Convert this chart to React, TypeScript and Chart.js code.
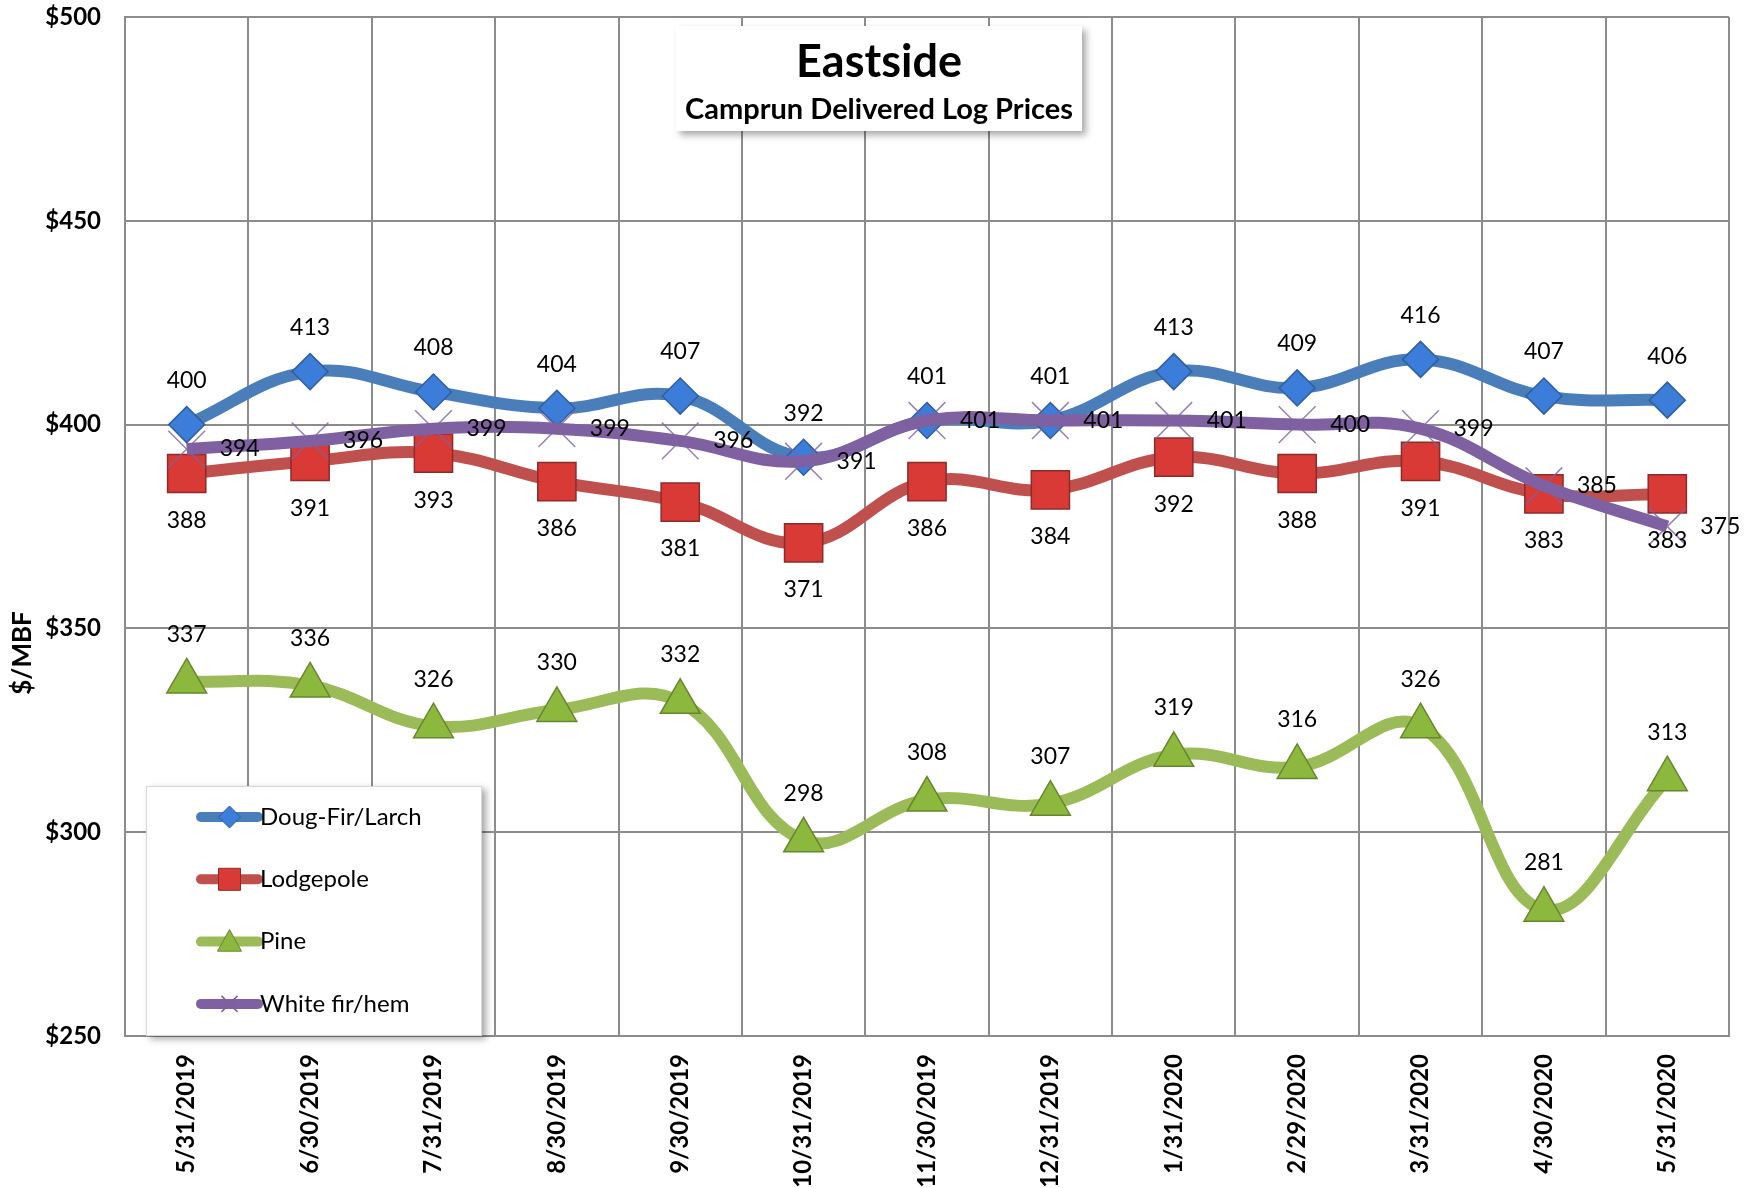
import React, { useEffect, useRef } from 'react';
import { Chart, registerables } from 'chart.js';

Chart.register(...registerables);

const categories = [
  '5/31/2019', '6/30/2019', '7/31/2019', '8/30/2019', '9/30/2019', '10/31/2019',
  '11/30/2019', '12/31/2019', '1/31/2020', '2/29/2020', '3/31/2020', '4/30/2020', '5/31/2020',
];
const dougFirLarch = [400, 413, 408, 404, 407, 392, 401, 401, 413, 409, 416, 407, 406];
const lodgepole = [388, 391, 393, 386, 381, 371, 386, 384, 392, 388, 391, 383, 383];
const pine = [337, 336, 326, 330, 332, 298, 308, 307, 319, 316, 326, 281, 313];
const whiteFirHem = [394, 396, 399, 399, 396, 391, 401, 401, 401, 400, 399, 385, 375];
const yTicks = [250, 300, 350, 400, 450, 500];
const seriesNames = ['Doug-Fir/Larch', 'Lodgepole', 'Pine', 'White fir/hem'];
const titleText = 'Eastside';
const subtitleText = 'Camprun Delivered Log Prices';
const yAxisTitle = '$/MBF';

const FONT = 'Lato, "Open Sans", "DejaVu Sans", sans-serif';

const COLORS = {
  blue: '#4A7EBB',
  blueFill: '#3B7DD8',
  blueBorder: '#2F5F9E',
  red: '#C0504D',
  redFill: '#D93A35',
  redBorder: '#8C2B2A',
  green: '#9BBB59',
  greenFill: '#8DB83E',
  greenBorder: '#66862C',
  purple: '#7F60A0',
};

function drawMarker(ctx: CanvasRenderingContext2D, kind: string, x: number, y: number, r: number, fill: string, stroke: string) {
  ctx.save();
  ctx.beginPath();
  if (kind === 'diamond') {
    ctx.moveTo(x, y - r);
    ctx.lineTo(x + r, y);
    ctx.lineTo(x, y + r);
    ctx.lineTo(x - r, y);
    ctx.closePath();
    ctx.fillStyle = fill;
    ctx.fill();
    ctx.strokeStyle = stroke;
    ctx.lineWidth = 1;
    ctx.stroke();
  } else if (kind === 'square') {
    ctx.rect(x - r, y - r, 2 * r, 2 * r);
    ctx.fillStyle = fill;
    ctx.fill();
    ctx.strokeStyle = stroke;
    ctx.lineWidth = 1;
    ctx.stroke();
  } else if (kind === 'triangle') {
    ctx.moveTo(x, y - r);
    ctx.lineTo(x + r, y + r * 0.8);
    ctx.lineTo(x - r, y + r * 0.8);
    ctx.closePath();
    ctx.fillStyle = fill;
    ctx.fill();
    ctx.strokeStyle = stroke;
    ctx.lineWidth = 1;
    ctx.stroke();
  } else if (kind === 'cross') {
    ctx.moveTo(x - r, y - r);
    ctx.lineTo(x + r, y + r);
    ctx.moveTo(x + r, y - r);
    ctx.lineTo(x - r, y + r);
    ctx.strokeStyle = stroke;
    ctx.lineWidth = 1.5;
    ctx.stroke();
  }
  ctx.restore();
}

const overlayPlugin = {
  id: 'overlay',
  afterDatasetsDraw(chart: any) {
    const ctx: CanvasRenderingContext2D = chart.ctx;
    const specs = [
      { pos: 'above', off: 44 },
      { pos: 'below', off: 47 },
      { pos: 'above', off: 47 },
      { pos: 'right', off: 53 },
    ];
    ctx.save();
    ctx.font = `23px ${FONT}`;
    ctx.fillStyle = '#000';
    ctx.textAlign = 'center';
    ctx.textBaseline = 'middle';
    chart.data.datasets.forEach((ds: any, di: number) => {
      const meta = chart.getDatasetMeta(di);
      const s = specs[di];
      meta.data.forEach((pt: any, i: number) => {
        let x = pt.x;
        let y = pt.y;
        if (s.pos === 'above') y -= s.off;
        else if (s.pos === 'below') y += s.off;
        else x += s.off;
        ctx.fillText(String(ds.data[i]), x, y);
      });
    });
    ctx.restore();
  },
  afterDraw(chart: any) {
    const ctx: CanvasRenderingContext2D = chart.ctx;
    const area = chart.chartArea;

    // Title box
    const tbX = area.left + 551;
    const tbY = area.top + 9;
    const tbW = 406;
    const tbH = 105;
    ctx.save();
    ctx.shadowColor = 'rgba(0,0,0,0.35)';
    ctx.shadowBlur = 7;
    ctx.shadowOffsetX = 4;
    ctx.shadowOffsetY = 4;
    ctx.fillStyle = '#fff';
    ctx.fillRect(tbX, tbY, tbW, tbH);
    ctx.restore();
    ctx.save();
    ctx.fillStyle = '#000';
    ctx.textAlign = 'center';
    ctx.textBaseline = 'middle';
    ctx.font = `bold 45px ${FONT}`;
    ctx.fillText(titleText, tbX + tbW / 2, tbY + 36);
    ctx.font = `bold 29px ${FONT}`;
    ctx.fillText(subtitleText, tbX + tbW / 2, tbY + 84);
    ctx.restore();

    // Legend box
    const lbX = area.left + 21;
    const lbW = 336;
    const lbY = area.bottom - 250;
    const lbH = 250;
    ctx.save();
    ctx.shadowColor = 'rgba(0,0,0,0.35)';
    ctx.shadowBlur = 7;
    ctx.shadowOffsetX = 4;
    ctx.shadowOffsetY = 3;
    ctx.fillStyle = '#fff';
    ctx.fillRect(lbX, lbY, lbW, lbH);
    ctx.restore();
    ctx.save();
    ctx.strokeStyle = '#d8d8d8';
    ctx.lineWidth = 1;
    ctx.strokeRect(lbX + 0.5, lbY + 0.5, lbW - 1, lbH - 1);
    ctx.restore();

    const legendItems = [
      { color: COLORS.blue, kind: 'diamond', r: 11, fill: COLORS.blueFill, stroke: COLORS.blueBorder },
      { color: COLORS.red, kind: 'square', r: 11, fill: COLORS.redFill, stroke: COLORS.redBorder },
      { color: COLORS.green, kind: 'triangle', r: 12, fill: COLORS.greenFill, stroke: COLORS.greenBorder },
      { color: COLORS.purple, kind: 'cross', r: 8, fill: COLORS.purple, stroke: COLORS.purple },
    ];
    legendItems.forEach((it, i) => {
      const cy = lbY + 31 + i * 62.3;
      const x0 = lbX + 55;
      const x1 = lbX + 112;
      ctx.save();
      ctx.strokeStyle = it.color;
      ctx.lineWidth = 10;
      ctx.lineCap = 'round';
      ctx.beginPath();
      ctx.moveTo(x0, cy);
      ctx.lineTo(x1, cy);
      ctx.stroke();
      ctx.restore();
      drawMarker(ctx, it.kind, (x0 + x1) / 2, cy, it.r, it.fill, it.stroke);
      ctx.save();
      ctx.fillStyle = '#000';
      ctx.font = `24px ${FONT}`;
      ctx.textAlign = 'left';
      ctx.textBaseline = 'middle';
      ctx.fillText(seriesNames[i], x1 + 2, cy);
      ctx.restore();
    });

    // Y axis title
    ctx.save();
    ctx.translate(23, 653);
    ctx.rotate(-Math.PI / 2);
    ctx.fillStyle = '#000';
    ctx.font = `bold 26px ${FONT}`;
    ctx.textAlign = 'center';
    ctx.textBaseline = 'middle';
    ctx.fillText(yAxisTitle, 0, 0);
    ctx.restore();
  },
};

export default function App() {
  const canvasRef = useRef<HTMLCanvasElement | null>(null);

  useEffect(() => {
    const canvas = canvasRef.current;
    if (!canvas) return;
    const lineCommon = {
      borderWidth: 12,
      tension: 0.4,
      fill: false,
      pointBorderWidth: 1.5,
      pointHoverRadius: 0,
      clip: false,
    };
    const chart = new Chart(canvas, {
      type: 'line',
      data: {
        labels: categories,
        datasets: [
          {
            ...lineCommon,
            label: seriesNames[0],
            data: dougFirLarch,
            borderColor: COLORS.blue,
            pointStyle: 'rectRot',
            pointRadius: 18,
            pointBackgroundColor: COLORS.blueFill,
            pointBorderColor: COLORS.blueBorder,
            order: 3,
          },
          {
            ...lineCommon,
            label: seriesNames[1],
            data: lodgepole,
            borderColor: COLORS.red,
            pointStyle: 'rect',
            pointRadius: 27,
            pointBackgroundColor: COLORS.redFill,
            pointBorderColor: COLORS.redBorder,
            order: 2,
          },
          {
            ...lineCommon,
            label: seriesNames[2],
            data: pine,
            borderColor: COLORS.green,
            pointStyle: 'triangle',
            pointRadius: 23,
            pointBackgroundColor: COLORS.greenFill,
            pointBorderColor: COLORS.greenBorder,
            order: 1,
          },
          {
            ...lineCommon,
            label: seriesNames[3],
            data: whiteFirHem,
            borderColor: COLORS.purple,
            pointStyle: 'crossRot',
            pointRadius: 26,
            pointBorderWidth: 1.5,
            pointBackgroundColor: COLORS.purple,
            pointBorderColor: 'rgba(127,96,160,0.8)',
            order: 0,
          },
        ],
      },
      options: {
        animation: false,
        responsive: false,
        maintainAspectRatio: false,
        layout: { autoPadding: false, padding: { top: 17, right: 29, left: 0, bottom: 0 } },
        plugins: {
          legend: { display: false },
          title: { display: false },
          tooltip: { enabled: false },
        },
        scales: {
          x: {
            type: 'category',
            offset: true,
            grid: { offset: true, color: '#8c8c8c', lineWidth: 2, drawTicks: false },
            border: { color: '#8c8c8c', width: 2 },
            ticks: {
              autoSkip: false,
              minRotation: 90,
              maxRotation: 90,
              padding: 18,
              color: '#000',
              font: { family: FONT, size: 24, weight: 'bold' },
            },
            afterFit: (scale: any) => {
              scale.height = 152;
              scale.paddingLeft = 0;
              scale.paddingRight = 0;
            },
          },
          y: {
            min: 250,
            max: 500,
            afterBuildTicks: (scale: any) => {
              scale.ticks = yTicks.map((v) => ({ value: v }));
            },
            grid: { color: '#8c8c8c', lineWidth: 2, drawTicks: false },
            border: { color: '#8c8c8c', width: 2 },
            ticks: {
              padding: 24,
              color: '#000',
              font: { family: FONT, size: 24, weight: 'bold' },
              callback: (v: any) => '$' + v,
            },
            afterFit: (scale: any) => {
              scale.width = 125;
              scale.paddingTop = 0;
              scale.paddingBottom = 0;
            },
          },
        },
      },
      plugins: [overlayPlugin],
    } as any);
    return () => chart.destroy();
  }, []);

  return (
    <div style={{ position: 'absolute', left: 0, top: 0, width: 1758, height: 1188, background: '#fff' }}>
      <canvas ref={canvasRef} width={1758} height={1188} style={{ display: 'block', width: 1758, height: 1188 }} />
    </div>
  );
}
